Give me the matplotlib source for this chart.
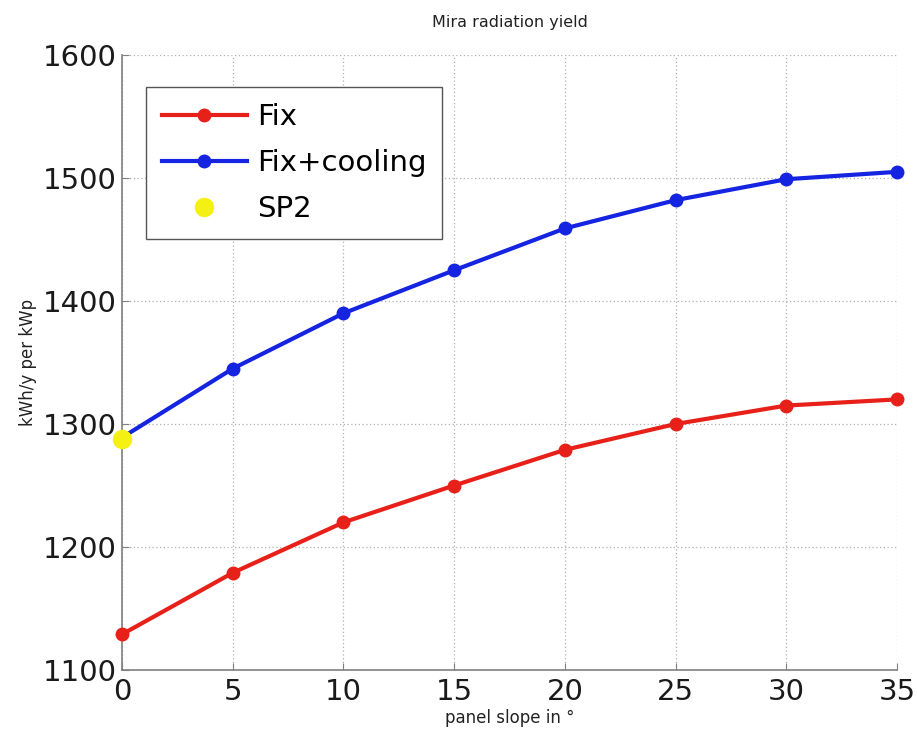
import matplotlib
matplotlib.use("Agg")
import matplotlib.pyplot as plt

slope = [0, 5, 10, 15, 20, 25, 30, 35]
fix = [1129, 1179, 1220, 1250, 1279, 1300, 1315, 1320]
fix_cooling = [1289, 1345, 1390, 1425, 1459, 1482, 1499, 1505]
sp2_x = [0]
sp2_y = [1288]
xticks = [0, 5, 10, 15, 20, 25, 30, 35]
yticks = [1100, 1200, 1300, 1400, 1500, 1600]

fig = plt.figure(figsize=(9.17, 7.43), dpi=100)
ax = fig.add_axes([122/917, 1 - 670/743, (897-122)/917, (670-55)/743])

ax.plot(slope, fix, color="#e8201a", lw=3, marker="o", ms=9, label="Fix", zorder=3, clip_on=False)
ax.plot(slope, fix_cooling, color="#1424e0", lw=3, marker="o", ms=9, label="Fix+cooling", zorder=3, clip_on=False)
ax.plot(sp2_x, sp2_y, ls="none", marker="o", ms=13, color="#f5f014", label="SP2", zorder=4, clip_on=False)

ax.set_xlim(0, 35)
ax.set_ylim(1100, 1600)
ax.set_xticks(xticks)
ax.set_yticks(yticks)
ax.grid(True, ls=(0, (1, 2)), color="#b0b0b0", lw=0.9)
for s in ["top", "right"]:
    ax.spines[s].set_visible(False)
for s in ["left", "bottom"]:
    ax.spines[s].set_color("#808080")
    ax.spines[s].set_linewidth(1.2)
ax.tick_params(axis="both", labelsize=21, colors="#808080", labelcolor="#1a1a1a", length=5, direction="in")
ax.tick_params(axis="x", pad=6)
ax.tick_params(axis="y", pad=4)

ax.set_title("Mira radiation yield", fontsize=11.5, pad=20, color="#222222")
ax.set_xlabel("panel slope in °", fontsize=12, labelpad=2, color="#222222")
ax.set_ylabel("kWh/y per kWp", fontsize=12, labelpad=4, color="#222222")

leg = ax.legend(loc="upper left", bbox_to_anchor=(24/775, 1 - 32/615), fontsize=21,
                fancybox=False, framealpha=1, edgecolor="#555555", borderaxespad=0,
                handlelength=2.9, handletextpad=0.35, borderpad=0.55, labelspacing=0.62)
leg.get_frame().set_linewidth(1.0)

fig.savefig("out.png", dpi=100)
